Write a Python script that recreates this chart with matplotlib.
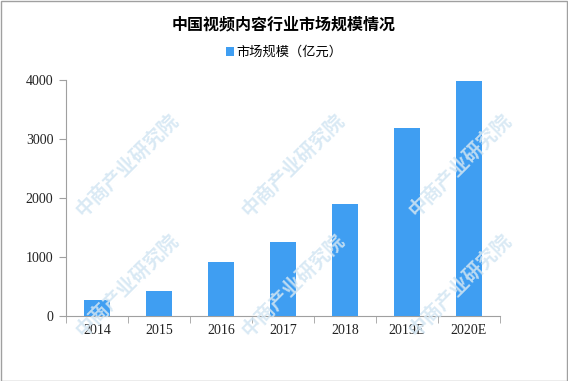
import matplotlib
matplotlib.use("Agg")
import matplotlib.pyplot as plt
import numpy as np

plt.rcParams['font.family'] = ['Noto Sans CJK SC', 'DejaVu Sans']

years = ['2014', '2015', '2016', '2017', '2018', '2019E', '2020E']
market_size = [265, 420, 910, 1250, 1890, 3180, 3990]  # 亿元
title = '中国视频内容行业市场规模情况'
series_name = '市场规模（亿元）'
watermark = '中商产业研究院'

BAR_COLOR = '#3f9ef2'

fig = plt.figure(figsize=(5.68, 3.81), dpi=100)
ax = fig.add_axes([0.116, 0.171, 0.764, 0.619])

x = np.arange(len(years))
ax.bar(x, market_size, width=0.42, color=BAR_COLOR, label=series_name, zorder=3)

ax.set_xlim(-0.5, len(years) - 0.5)
ax.set_ylim(0, 4000)
ax.set_yticks([0, 1000, 2000, 3000, 4000])
ax.set_xticks(x)
ax.set_xticklabels(years)
ax.set_xticks(np.arange(-0.5, len(years), 1), minor=True)
ax.tick_params(axis='x', which='major', length=0, pad=6)
ax.tick_params(axis='x', which='minor', length=5, color='#a0a0a0', direction='out')
ax.tick_params(axis='y', length=5, color='#a0a0a0', direction='out', pad=4)
for lab in ax.get_xticklabels() + ax.get_yticklabels():
    lab.set_family('Liberation Serif')
    lab.set_fontsize(10)
    lab.set_color('#222222')

for s in ['top', 'right']:
    ax.spines[s].set_visible(False)
ax.spines['left'].set_color('#a0a0a0')
ax.spines['bottom'].set_color('#a0a0a0')

fig.text(0.5, 0.935, title, ha='center', va='center', fontsize=11.5, fontweight='bold')
fig.legend(loc='center', bbox_to_anchor=(0.5, 0.862), frameon=False, fontsize=9.5,
           handlelength=0.6, handleheight=0.6, handletextpad=0.2)

# faint watermarks (pixel centres from the top-left corner)
for cx in [127, 293, 460]:
    for cy in [165, 285]:
        fig.text(cx / 568, 1 - cy / 381, watermark, rotation=45, fontsize=14, fontweight='bold',
                 color='#d3e6f3', alpha=0.85, ha='center', va='center', zorder=0)

# outer frame
fig.patches.append(plt.Rectangle((0.001, 0.001), 0.997, 0.997, transform=fig.transFigure,
                                 fill=False, ec='#a0a0a0', lw=1.0))

fig.savefig('out.png', dpi=100)
